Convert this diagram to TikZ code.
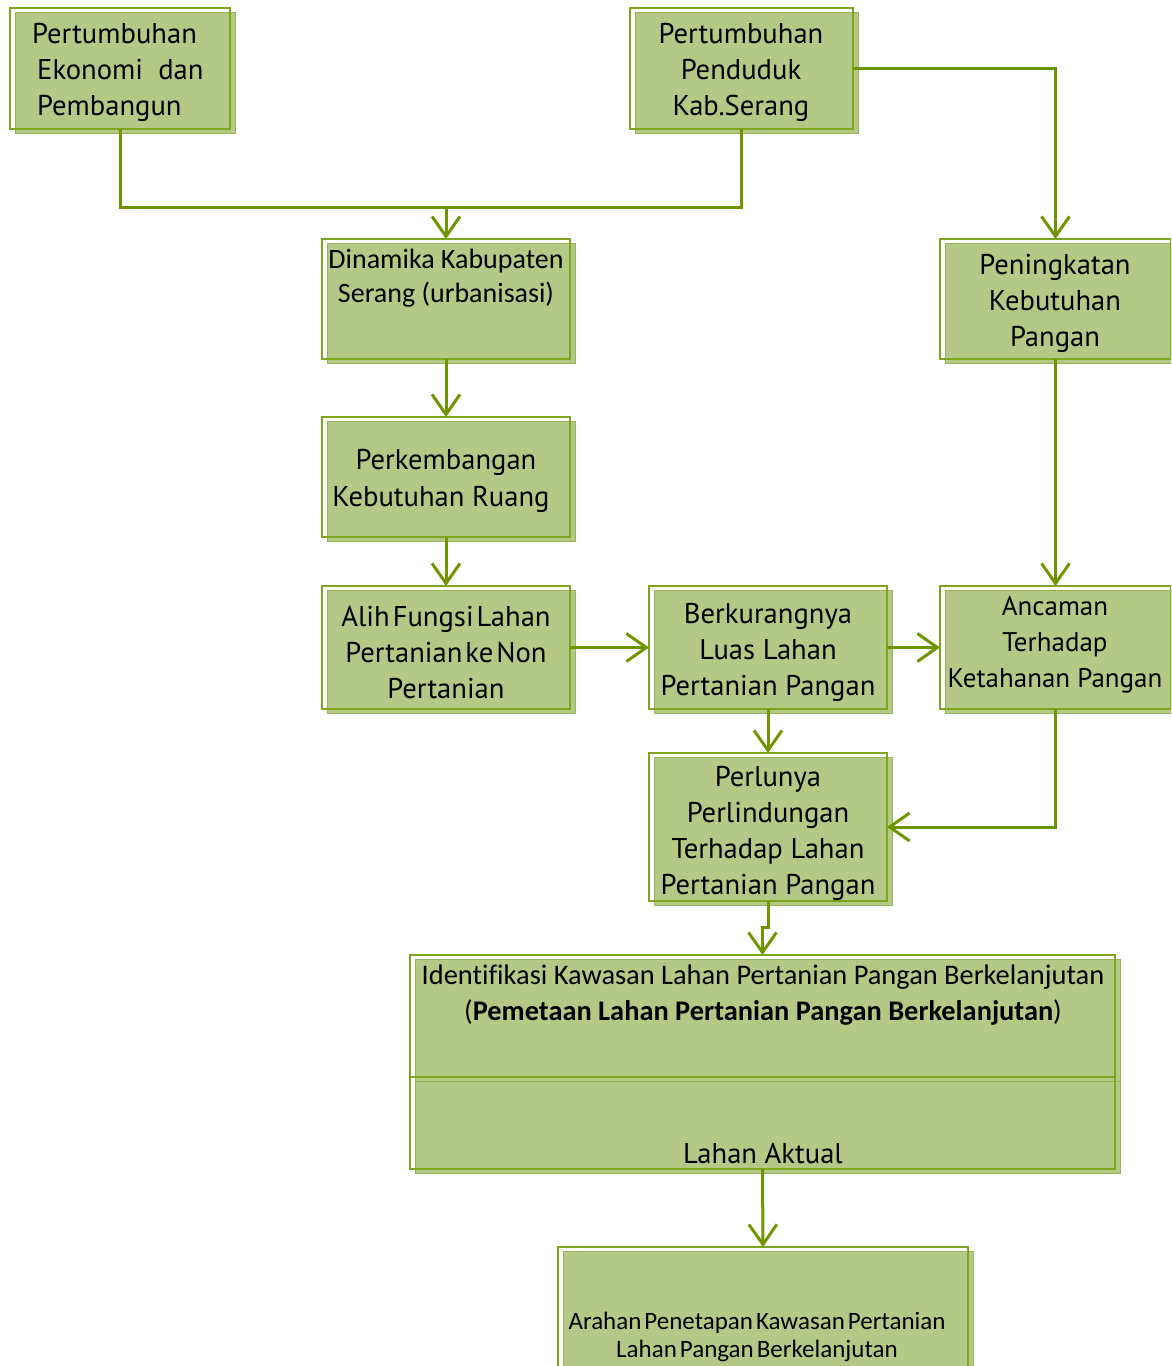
\documentclass[tikz,border=0pt]{standalone}
\usepackage{fontspec}
\setmainfont{PT Sans}
\newfontfamily\calfont[Ligatures=NoCommon]{Carlito}
\usetikzlibrary{arrows.meta,fit}
\definecolor{boxfill}{RGB}{181,201,134}
\definecolor{boxedge}{RGB}{150,180,90}
\definecolor{outl}{RGB}{125,165,30}
\definecolor{linec}{RGB}{110,150,0}
\newcommand\tightsp{\spaceskip=3pt\relax}
\tikzset{
  outbox/.style={draw=outl, line width=1.3pt, inner sep=0pt, outer sep=0pt},
  fillbox/.style={fill=boxfill, draw=boxedge, line width=1pt},
  conn/.style={draw=linec, line width=3pt},
  arr/.style={conn, -{Straight Barb[length=20pt,width=28pt,line width=3pt]}},
  txt/.style={align=center, inner sep=0pt, yshift=-3pt, font=\fontsize{28.6}{36}\selectfont},
  ctxt/.style={align=center, inner sep=0pt, yshift=-2pt, font=\calfont\fontsize{28}{34}\selectfont},
}
\newcommand\gbox[5]{%
  \path[fillbox] (#2+5,#3+4) rectangle (#4+5,#5+4);
  \node[outbox, fit={(#2,#3) (#4,#5)}] (#1) {};
}
\begin{document}
\begin{tikzpicture}[x=1pt,y=-1pt]
\useasboundingbox (0,0) rectangle (1171,1366);
\begin{scope}
\clip (0,0) rectangle (1171,1366);
\gbox{b1}{10}{8}{230}{129}
\gbox{b2}{630}{8}{853}{129}
\gbox{b3}{322}{239}{570}{359}
\gbox{b4}{940}{239}{1171}{359}
\gbox{b5}{322}{417}{570}{537}
\gbox{b6}{322}{586}{570}{709}
\gbox{b7}{649}{586}{887}{709}
\gbox{b8}{940}{586}{1171}{709}
\gbox{b9}{649}{753}{887}{901}
\gbox{b10}{410}{955}{1115}{1077}
\gbox{b11}{410}{1077}{1115}{1169}
\gbox{b12}{558}{1247}{968}{1390}
\end{scope}

\node[txt, align=left, anchor=west] (t1) at (32,69) {Pertumbuhan\\\hspace*{5pt}Ekonomi\ \ dan\\\hspace*{5pt}Pembangun};
\node[txt] (t2) at (741,69) {Pertumbuhan\\Penduduk\\Kab.Serang};
\node[ctxt] (t3) at (446,276) {Dinamika Kabupaten\\Serang (urbanisasi)};
\node[txt] (t4) at (1055,300) {Peningkatan\\Kebutuhan\\Pangan};
\node[txt, font=\fontsize{28.6}{37}\selectfont] (t5) at (441,478) {\hspace*{10pt}Perkembangan\\Kebutuhan Ruang};
\node[txt, font={\fontsize{28.6}{36}\selectfont\tightsp}] (t6) at (446,649) {Alih Fungsi Lahan\\Pertanian ke Non\\Pertanian};
\node[txt] (t7) at (768,649) {Berkurangnya\\Luas Lahan\\Pertanian Pangan};
\node[txt, font=\fontsize{27}{36}\selectfont] (t8) at (1055,642) {Ancaman\\Terhadap\\Ketahanan Pangan};
\node[txt] (t9) at (768,830) {Perlunya\\Perlindungan\\Terhadap Lahan\\Pertanian Pangan};
\node[ctxt, font=\calfont\fontsize{28.4}{36}\selectfont] (t10) at (763,993) {Identifikasi Kawasan Lahan Pertanian Pangan Berkelanjutan\\(\textbf{Pemetaan Lahan Pertanian Pangan Berkelanjutan})};
\node[txt] (t11) at (763,1150) {Lahan Aktual};
\node[ctxt, font={\calfont\fontsize{25}{28}\selectfont\tightsp}] (t12) at (757,1335) {Arahan Penetapan Kawasan Pertanian\\Lahan Pangan Berkelanjutan};

\coordinate (m1) at (446,207);
\draw[conn] (b1.south) |- (m1) -| (b2.south);
\draw[arr] (m1) -- (b3.north);
\draw[arr] (b2.east) -| (b4.north);
\draw[arr] (b3.south) -- (b5.north);
\draw[arr] (b5.south) -- (b6.north);
\draw[arr] (b6.east) -- (b7.west);
\draw[arr] (b7.east) -- (b8.west);
\draw[arr] (b4.south) -- (b8.north);
\draw[arr] (b7.south) -- (b9.north);
\draw[arr] (b8.south) |- (b9.east);
\draw[arr] (b9.south) -- ++(0,26) -| (b10.north);
\draw[arr] (b11.south) -- (b12.north);
\end{tikzpicture}
\end{document}
